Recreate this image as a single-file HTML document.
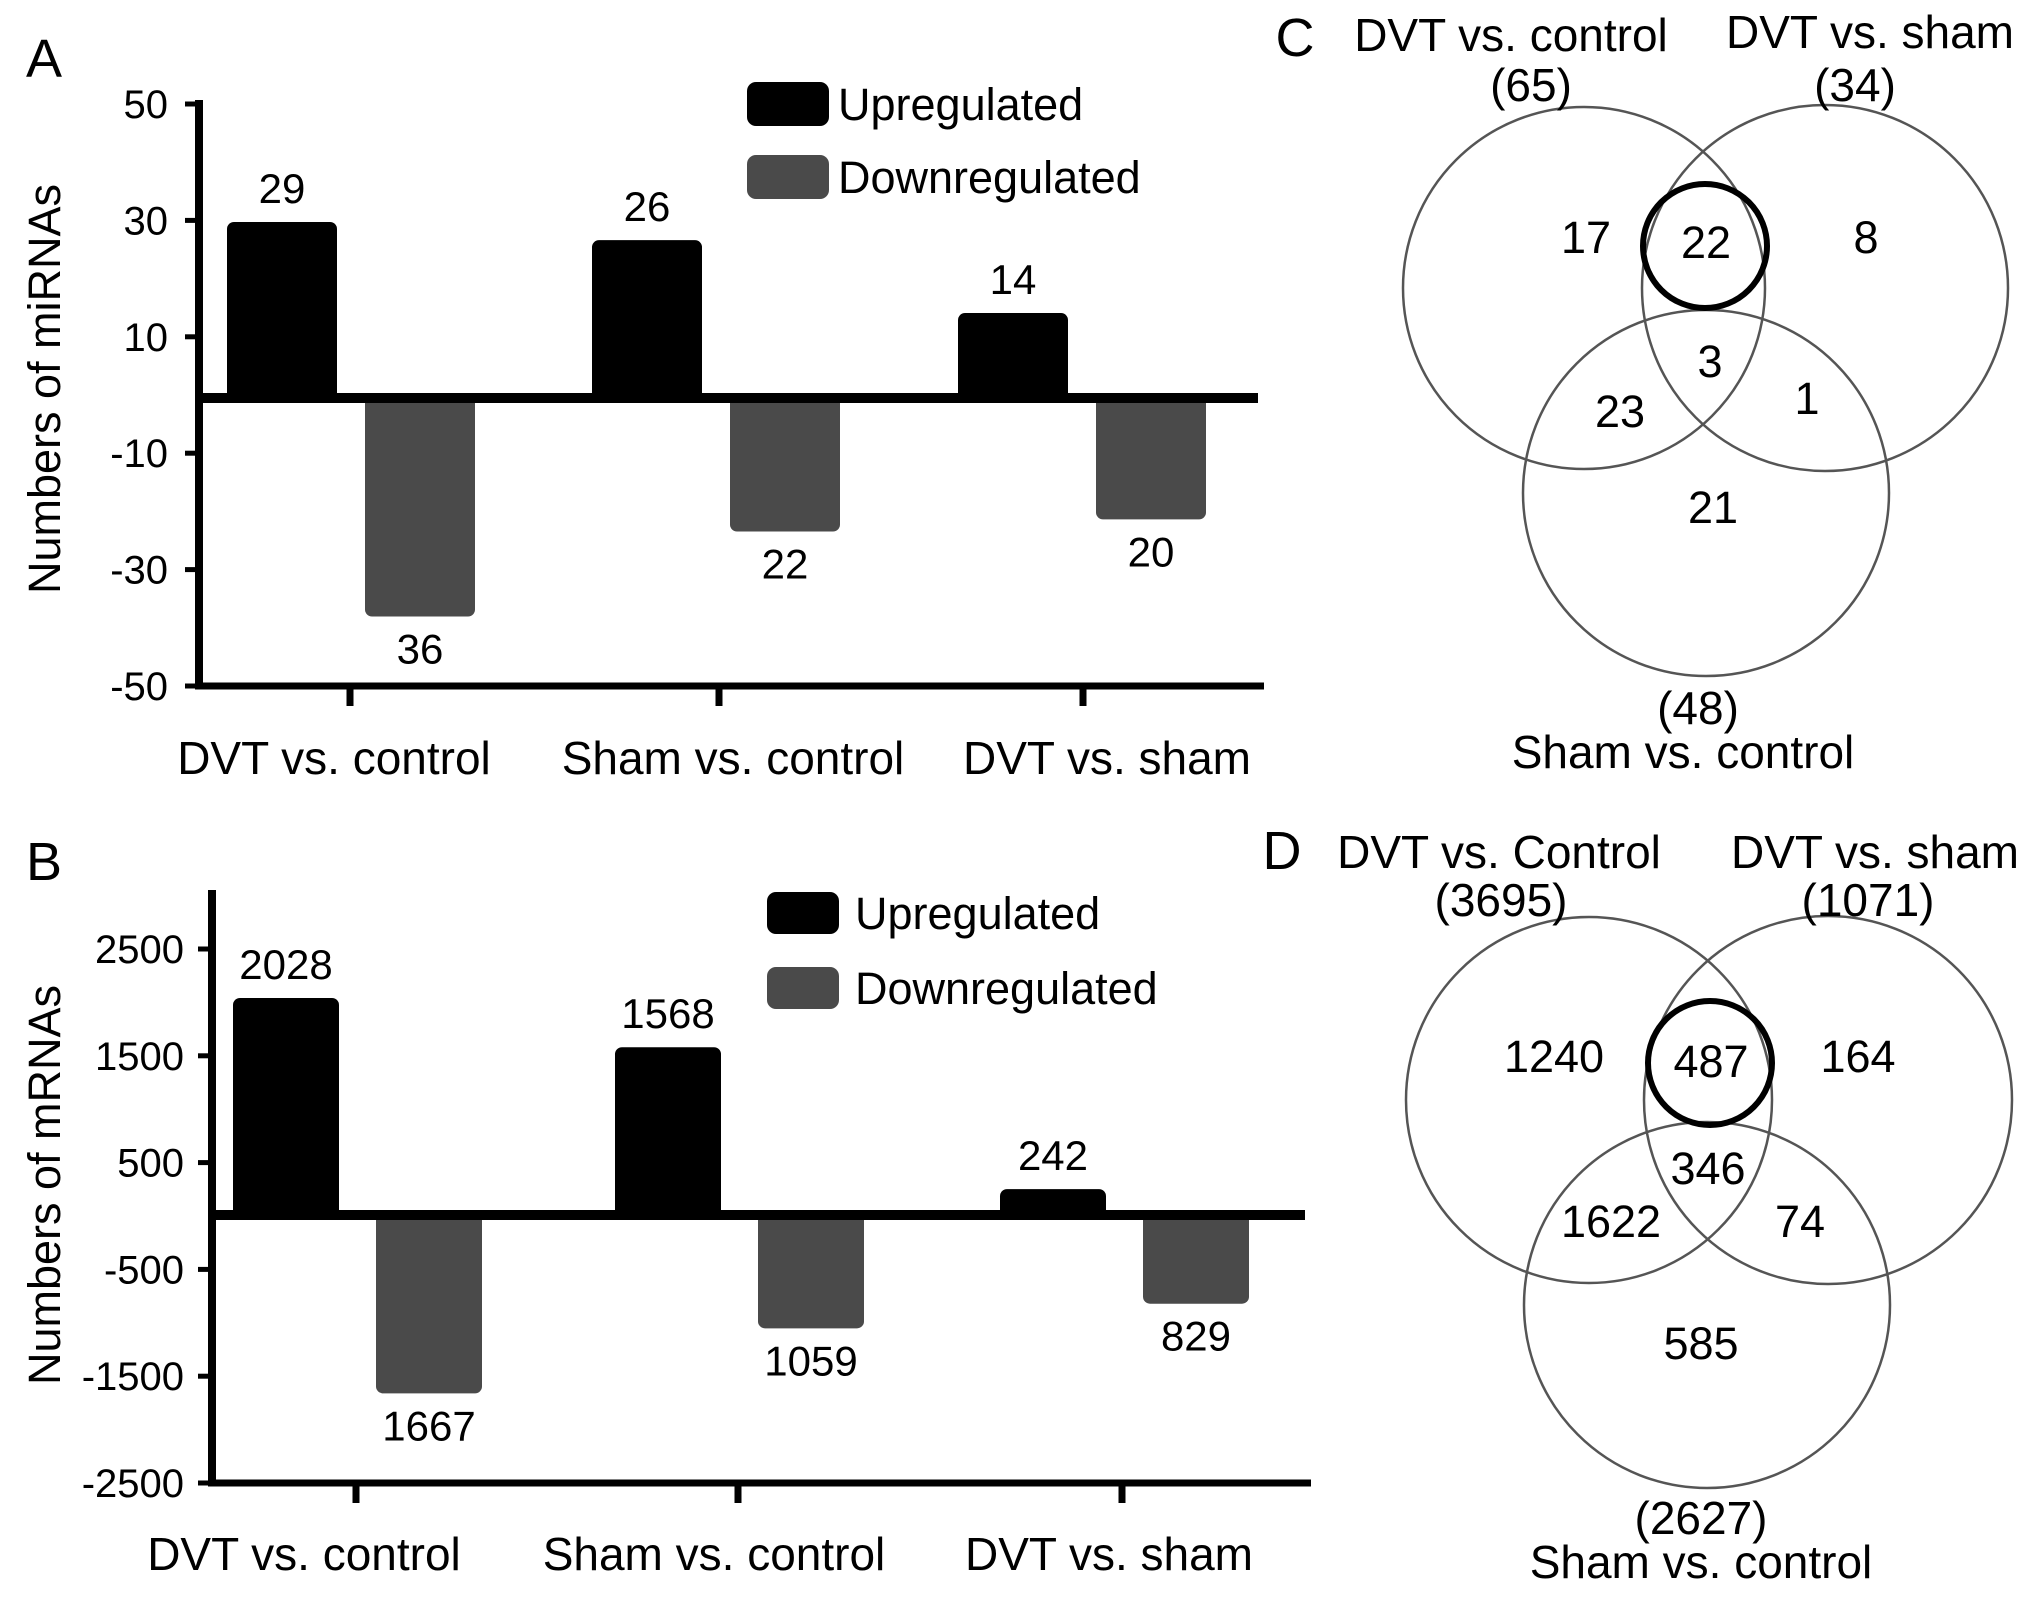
<!DOCTYPE html>
<html><head><meta charset="utf-8"><style>
html,body{margin:0;padding:0;background:#fff}
svg{display:block;font-family:"Liberation Sans",Arial,sans-serif}
</style></head><body>
<svg id="fig" width="2031" height="1600" viewBox="0 0 2031 1600" xmlns="http://www.w3.org/2000/svg">
<g id="panelA"></g>
<g id="panelB"></g>
<g id="panelC"></g>
<g id="panelD"></g>
</svg>
<script>
const categories = ["DVT vs. control","Sham vs. control","DVT vs. sham"];
const miUp = [29,26,14];
const miDown = [36,22,20];
const miTicks = [50,30,10,-10,-30,-50];
const mUp = [2028,1568,242];
const mDown = [1667,1059,829];
const mTicks = [2500,1500,500,-500,-1500,-2500];
const vennCLabels = ["DVT vs. control","DVT vs. sham","Sham vs. control"];
const vennCTotals = ["(65)","(34)","(48)"];
const vennCValues = [17,22,8,3,23,1,21];
const vennDLabels = ["DVT vs. Control","DVT vs. sham","Sham vs. control"];
const vennDTotals = ["(3695)","(1071)","(2627)"];
const vennDValues = [1240,487,164,346,1622,74,585];

const NS="http://www.w3.org/2000/svg";
function mk(parent,tag,attrs,text){const e=document.createElementNS(NS,tag);for(const k in attrs)e.setAttribute(k,attrs[k]);if(text!==undefined)e.textContent=text;parent.appendChild(e);return e;}

function barChart(g,cfg){
  const y=v=>cfg.zero-v*cfg.k;
  const ty0=v=>cfg.tzero-v*cfg.tk;
  let t=mk(g,'text',{x:cfg.letterX,y:cfg.letterY,'font-size':54},cfg.letter);
  
  
  let a=mk(g,'line',{x1:cfg.ax,y1:cfg.axTop,x2:cfg.ax,y2:cfg.axBottom+3,stroke:'#000','stroke-width':8});
  
  
  cfg.ticks.forEach(v=>{
    const ty=ty0(v);
    let tk=mk(g,'line',{x1:cfg.ax-14,y1:ty,x2:cfg.ax,y2:ty,stroke:'#000','stroke-width':5});
    
    
    let tl=mk(g,'text',{x:cfg.tickLabelX,y:ty+14,'font-size':40,'text-anchor':'end'},String(v));
    
    
  });
  let yt=mk(g,'text',{x:0,y:0,'font-size':45,'text-anchor':'middle',transform:`translate(${cfg.titleX},${cfg.titleY}) rotate(-90)`},cfg.title);
  
  
  categories.forEach((c,i)=>{
    const x0=cfg.groupX[i];
    const u=cfg.up[i], d=cfg.down[i];
    let b=mk(g,'rect',{x:x0,y:y(u),width:cfg.bw,height:cfg.zero-y(u)+4,rx:7,fill:'#000'});
    
    
    let bl=mk(g,'text',{x:x0+cfg.bw/2,y:y(u)-19,'font-size':42,'text-anchor':'middle'},String(u));
    
    
    const dx=x0+cfg.bw+cfg.gap;
    let b2=mk(g,'rect',{x:dx,y:cfg.zero-4,width:cfg.bw,height:y(-d)-cfg.zero+4,rx:7,fill:'#4a4a4a'});
    
    
    let bl2=mk(g,'text',{x:dx+cfg.bw/2,y:y(-d)+47,'font-size':42,'text-anchor':'middle'},String(d));
    
    
    let xt=mk(g,'line',{x1:cfg.xTicks[i],y1:cfg.axBottom,x2:cfg.xTicks[i],y2:cfg.axBottom+20,stroke:'#000','stroke-width':7});
    
    
    let cl=mk(g,'text',{x:cfg.catX[i],y:cfg.catY+16,'font-size':46,'text-anchor':'middle'},c);
    
    
  });
  let zl=mk(g,'line',{x1:cfg.ax,y1:cfg.zero,x2:cfg.zeroEnd,y2:cfg.zero,stroke:'#000','stroke-width':10});
  
  
  let xa=mk(g,'line',{x1:cfg.ax-4,y1:cfg.axBottom,x2:cfg.zeroEnd+6,y2:cfg.axBottom,stroke:'#000','stroke-width':7});
  
  
  const L=cfg.legend;
  let lb=mk(g,'rect',{x:L.x,y:L.y1-L.h/2,width:L.w,height:L.h,rx:9,fill:'#000'});
  
  
  let lt=mk(g,'text',{x:L.tx,y:L.y1+16,'font-size':45},'Upregulated');
  
  
  let lb2=mk(g,'rect',{x:L.x,y:L.y2-L.h/2,width:L.w,height:L.h,rx:9,fill:'#4a4a4a'});
  
  
  let lt2=mk(g,'text',{x:L.tx,y:L.y2+16,'font-size':45},'Downregulated');
  
  
}

barChart(document.getElementById('panelA'),{
  letter:'A',letterX:26,letterY:77,zero:398,k:6.07,tzero:395,tk:5.82,ax:199,axTop:100,axBottom:686,zeroEnd:1258,
  ticks:miTicks,tickLabelX:168,title:'Numbers of miRNAs',titleX:60,titleY:389,
  up:miUp,down:miDown,groupX:[227,592,958],bw:110,gap:28,xTicks:[350,719,1083],
  catX:[334,733,1107],catY:758,
  legend:{x:747,w:82,h:44,y1:104,y2:177,tx:838}
});
barChart(document.getElementById('panelB'),{
  letter:'B',letterX:26,letterY:880,zero:1215,k:0.107,tzero:1216,tk:0.1068,ax:212,axTop:890,axBottom:1483,zeroEnd:1305,
  ticks:mTicks,tickLabelX:184,title:'Numbers of mRNAs',titleX:60,titleY:1185,
  up:mUp,down:mDown,groupX:[233,615,1000],bw:106,gap:37,xTicks:[356,738,1122],
  catX:[304,714,1109],catY:1554,
  legend:{x:767,w:72,h:42,y1:913,y2:988,tx:855}
});

function venn(g,cfg){
  let t=mk(g,'text',{x:cfg.letter[1],y:cfg.letter[2]+19,'font-size':54,'text-anchor':'middle'},cfg.letter[0]);
  
  
  cfg.circles.forEach((c,i)=>{
    let e=mk(g,'circle',{cx:c[0],cy:c[1],r:c[2],fill:'none',stroke:'#555','stroke-width':2.5});
    
    
  });
  let h=mk(g,'circle',{cx:cfg.bold[0],cy:cfg.bold[1],r:cfg.bold[2],fill:'none',stroke:'#000','stroke-width':6});
  
  
  cfg.labels.forEach((s,i)=>{
    const p=cfg.labelPos[i];
    let l=mk(g,'text',{x:p[0],y:p[1]+16,'font-size':46,'text-anchor':'middle'},s);
    
    
    const q=cfg.totalPos[i];
    let tt=mk(g,'text',{x:q[0],y:q[1]+16,'font-size':46,'text-anchor':'middle'},cfg.totals[i]);
    
    
  });
  cfg.values.forEach((v,i)=>{
    const p=cfg.valuePos[i];
    let n=mk(g,'text',{x:p[0],y:p[1]+16,'font-size':45,'text-anchor':'middle'},String(v));
    
    
  });
}
venn(document.getElementById('panelC'),{
  letter:['C',1295,37],
  circles:[[1584,288,181],[1825,288,183],[1706,493,183]],bold:[1705,246,62],
  labels:vennCLabels,labelPos:[[1511,35],[1870,32],[1683,752]],
  totals:vennCTotals,totalPos:[[1531,85],[1855,85],[1698,708]],
  values:vennCValues,valuePos:[[1586,237],[1706,242],[1866,237],[1710,361],[1620,411],[1807,398],[1713,507]]
});
venn(document.getElementById('panelD'),{
  letter:['D',1282,850],
  circles:[[1589,1100,183],[1828,1100,184],[1707,1305,183]],bold:[1710,1063,62],
  labels:vennDLabels,labelPos:[[1499,852],[1875,852],[1701,1562]],
  totals:vennDTotals,totalPos:[[1501,900],[1868,900],[1701,1518]],
  values:vennDValues,valuePos:[[1554,1056],[1711,1061],[1858,1056],[1708,1168],[1611,1221],[1800,1221],[1701,1343]]
});
</script>
</body></html>
